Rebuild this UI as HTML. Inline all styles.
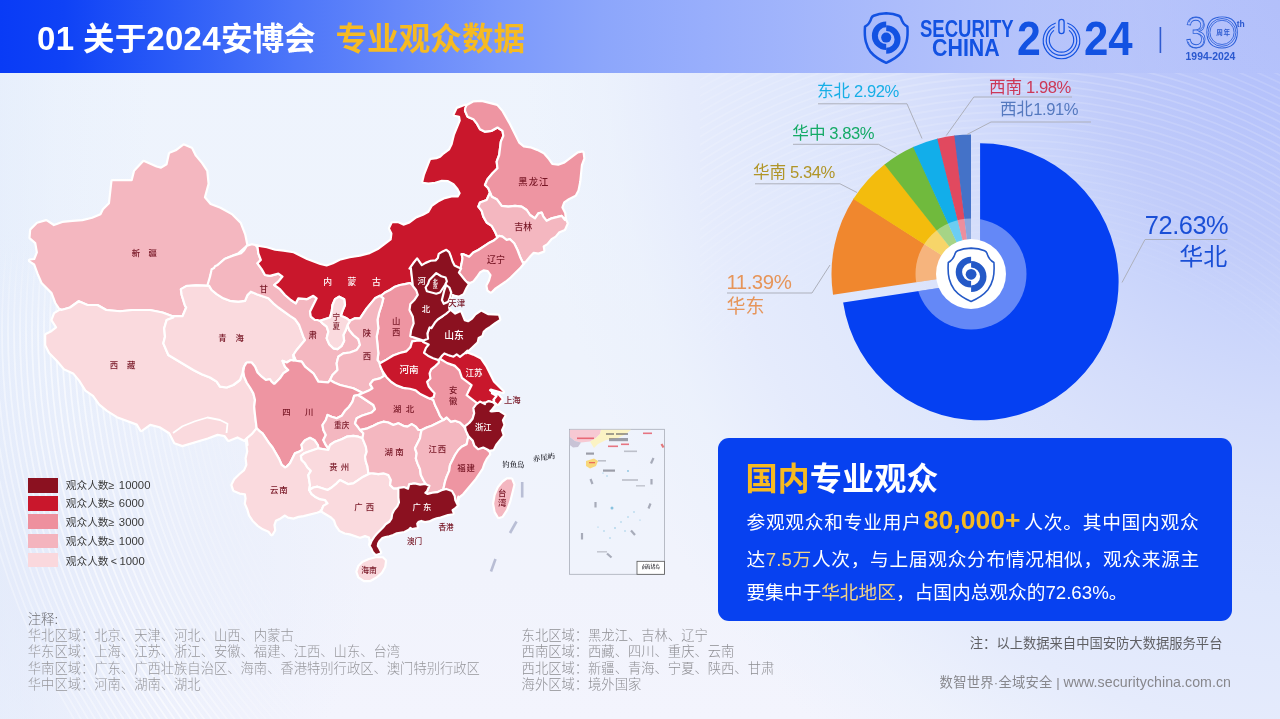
<!DOCTYPE html>
<html lang="zh-CN"><head><meta charset="utf-8"><title>01 关于2024安博会 专业观众数据</title>
<style>
html,body{margin:0;padding:0}
body{width:1280px;height:719px;overflow:hidden;position:relative;font-family:"Liberation Sans", "Noto Sans CJK SC", sans-serif;
background:radial-gradient(ellipse 780px 950px at 1300px -20px, #b2bffa 0%, #b5c2fb 12%, #c0cbfa 28%, #c9d4fb 36%, #d3dcfb 46%, #dae2fb 55%, #dfe7fc 65%, #e5ebfc 79%, rgba(234,240,252,0.6) 90%, rgba(238,243,252,0) 100%),
radial-gradient(ellipse 330px 330px at 40px 560px, rgba(226,233,250,0.7) 0%, rgba(228,235,251,0.45) 50%, rgba(232,238,252,0) 100%),
linear-gradient(90deg, rgba(222,233,251,0.45) 0px, rgba(226,236,251,0.25) 60px, rgba(230,238,252,0) 150px),
linear-gradient(180deg,#eef4fd 0%,#eef3fc 50%,#f1f3fc 80%,#f3f4fd 100%);}
.abs{position:absolute}
.t{position:absolute;white-space:nowrap;margin:0}
.hdr{left:0;top:0;width:1280px;height:73px;background:linear-gradient(90deg,#093bf6 0%,#0f42f6 5%,#2d5df7 14%,#4d76f9 23%,#6688fa 31%,#7b99fb 39%,#8ca6fb 47%,#98aefc 55%,rgba(168,185,251,0.92) 70%,rgba(178,192,251,0.6) 86%,rgba(181,195,251,0) 100%)}
.mlab{position:absolute;white-space:nowrap;font-size:8.4px;line-height:10px;color:#771625;font-weight:500;transform:translate(-50%,-50%)}
.mlab.w{color:#fff}
.mlab.k{color:#22222a;font-family:"Liberation Serif","Noto Serif CJK SC",serif;font-size:8px;font-weight:600}
.n{letter-spacing:-0.45px}
.pl{word-spacing:-0.8px}
.f1{letter-spacing:0.25px}
.f3{font-size:14.2px;letter-spacing:0.05px}
.ln{font-size:11.3px;margin-left:4.4px;letter-spacing:0.05px}
.dg{font-size:33px;letter-spacing:0.3px}
.bl{font-size:18.7px;color:#fff;line-height:35px;white-space:nowrap}
.bj{text-align:justify;text-align-last:justify;text-justify:inter-character}
.big{font-size:26.5px;font-weight:700;color:#f6ba22;margin:0 3px 0 2px;line-height:20px}
.y{color:#f1d387}
text{font-family:"Liberation Sans", "Noto Sans CJK SC", sans-serif}
</style></head>
<body>
<div class="abs hdr"></div>

<svg class="abs" style="left:0;top:0" width="1280" height="719" viewBox="0 0 1280 719">
<defs><linearGradient id="fadeh" gradientUnits="userSpaceOnUse" x1="0" y1="0" x2="340" y2="0"><stop offset="0" stop-color="#fff"/><stop offset="0.5" stop-color="#fff"/><stop offset="1" stop-color="#000"/></linearGradient>
<linearGradient id="fadev" gradientUnits="userSpaceOnUse" x1="0" y1="240" x2="0" y2="340"><stop offset="0" stop-color="#000"/><stop offset="1" stop-color="#fff"/></linearGradient>
<mask id="bgmask1" maskUnits="userSpaceOnUse" x="0" y="240" width="340" height="479"><rect x="0" y="240" width="340" height="479" fill="url(#fadeh)"/><rect x="0" y="240" width="340" height="100" fill="url(#fadev)" style="mix-blend-mode:multiply"/></mask></defs>
<clipPath id="bgclip2"><rect x="700" y="73" width="580" height="400"/></clipPath>
<g fill="none" stroke="#fff" mask="url(#bgmask1)">
<circle cx="720" cy="330" r="478" stroke-width="1.8" stroke-opacity="0.03"/>
<circle cx="720" cy="330" r="484" stroke-width="1.8" stroke-opacity="0.04"/>
<circle cx="720" cy="330" r="490" stroke-width="1.8" stroke-opacity="0.06"/>
<circle cx="720" cy="330" r="496" stroke-width="1.8" stroke-opacity="0.08"/>
<circle cx="720" cy="330" r="502" stroke-width="1.8" stroke-opacity="0.10"/>
<circle cx="720" cy="330" r="508" stroke-width="1.8" stroke-opacity="0.12"/>
<circle cx="720" cy="330" r="514" stroke-width="1.8" stroke-opacity="0.14"/>
<circle cx="720" cy="330" r="520" stroke-width="1.8" stroke-opacity="0.16"/>
<circle cx="720" cy="330" r="526" stroke-width="1.8" stroke-opacity="0.18"/>
<circle cx="720" cy="330" r="532" stroke-width="1.8" stroke-opacity="0.20"/>
<circle cx="720" cy="330" r="538" stroke-width="1.8" stroke-opacity="0.21"/>
<circle cx="720" cy="330" r="544" stroke-width="1.8" stroke-opacity="0.23"/>
<circle cx="720" cy="330" r="550" stroke-width="1.8" stroke-opacity="0.25"/>
<circle cx="720" cy="330" r="556" stroke-width="1.8" stroke-opacity="0.27"/>
<circle cx="720" cy="330" r="562" stroke-width="1.8" stroke-opacity="0.29"/>
<circle cx="720" cy="330" r="568" stroke-width="1.8" stroke-opacity="0.31"/>
<circle cx="720" cy="330" r="574" stroke-width="1.8" stroke-opacity="0.33"/>
<circle cx="720" cy="330" r="580" stroke-width="1.8" stroke-opacity="0.35"/>
<circle cx="720" cy="330" r="586" stroke-width="1.8" stroke-opacity="0.37"/>
<circle cx="720" cy="330" r="592" stroke-width="1.8" stroke-opacity="0.39"/>
<circle cx="720" cy="330" r="598" stroke-width="1.8" stroke-opacity="0.40"/>
<circle cx="720" cy="330" r="604" stroke-width="1.8" stroke-opacity="0.42"/>
<circle cx="720" cy="330" r="610" stroke-width="1.8" stroke-opacity="0.44"/>
<circle cx="720" cy="330" r="616" stroke-width="1.8" stroke-opacity="0.46"/>
<circle cx="720" cy="330" r="622" stroke-width="1.8" stroke-opacity="0.48"/>
<circle cx="720" cy="330" r="628" stroke-width="1.8" stroke-opacity="0.50"/>
<circle cx="720" cy="330" r="634" stroke-width="1.8" stroke-opacity="0.52"/>
<circle cx="720" cy="330" r="640" stroke-width="1.8" stroke-opacity="0.54"/>
<circle cx="720" cy="330" r="646" stroke-width="1.8" stroke-opacity="0.56"/>
<circle cx="720" cy="330" r="652" stroke-width="1.8" stroke-opacity="0.57"/>
<circle cx="720" cy="330" r="658" stroke-width="1.8" stroke-opacity="0.59"/>
<circle cx="720" cy="330" r="664" stroke-width="1.8" stroke-opacity="0.59"/>
<circle cx="720" cy="330" r="670" stroke-width="1.8" stroke-opacity="0.57"/>
<circle cx="720" cy="330" r="676" stroke-width="1.8" stroke-opacity="0.55"/>
<circle cx="720" cy="330" r="682" stroke-width="1.8" stroke-opacity="0.53"/>
<circle cx="720" cy="330" r="688" stroke-width="1.8" stroke-opacity="0.51"/>
<circle cx="720" cy="330" r="694" stroke-width="1.8" stroke-opacity="0.49"/>
<circle cx="720" cy="330" r="700" stroke-width="1.8" stroke-opacity="0.47"/>
<circle cx="720" cy="330" r="706" stroke-width="1.8" stroke-opacity="0.45"/>
<circle cx="720" cy="330" r="712" stroke-width="1.8" stroke-opacity="0.44"/>
<circle cx="720" cy="330" r="718" stroke-width="1.8" stroke-opacity="0.42"/>
<circle cx="720" cy="330" r="724" stroke-width="1.8" stroke-opacity="0.40"/>
<circle cx="720" cy="330" r="730" stroke-width="1.8" stroke-opacity="0.38"/>
<circle cx="720" cy="330" r="736" stroke-width="1.8" stroke-opacity="0.36"/>
<circle cx="720" cy="330" r="742" stroke-width="1.8" stroke-opacity="0.34"/>
<circle cx="720" cy="330" r="748" stroke-width="1.8" stroke-opacity="0.32"/>
<circle cx="720" cy="330" r="754" stroke-width="1.8" stroke-opacity="0.30"/>
</g><g fill="none" stroke="#fff" clip-path="url(#bgclip2)">
<circle cx="1010" cy="640" r="381" stroke-width="1.8" stroke-opacity="0.02"/>
<circle cx="1010" cy="640" r="388" stroke-width="1.8" stroke-opacity="0.03"/>
<circle cx="1010" cy="640" r="395" stroke-width="1.8" stroke-opacity="0.03"/>
<circle cx="1010" cy="640" r="402" stroke-width="1.8" stroke-opacity="0.04"/>
<circle cx="1010" cy="640" r="409" stroke-width="1.8" stroke-opacity="0.05"/>
<circle cx="1010" cy="640" r="416" stroke-width="1.8" stroke-opacity="0.05"/>
<circle cx="1010" cy="640" r="423" stroke-width="1.8" stroke-opacity="0.06"/>
<circle cx="1010" cy="640" r="430" stroke-width="1.8" stroke-opacity="0.06"/>
<circle cx="1010" cy="640" r="437" stroke-width="1.8" stroke-opacity="0.07"/>
<circle cx="1010" cy="640" r="444" stroke-width="1.8" stroke-opacity="0.07"/>
<circle cx="1010" cy="640" r="451" stroke-width="1.8" stroke-opacity="0.08"/>
<circle cx="1010" cy="640" r="458" stroke-width="1.8" stroke-opacity="0.08"/>
<circle cx="1010" cy="640" r="465" stroke-width="1.8" stroke-opacity="0.09"/>
<circle cx="1010" cy="640" r="472" stroke-width="1.8" stroke-opacity="0.09"/>
<circle cx="1010" cy="640" r="479" stroke-width="1.8" stroke-opacity="0.10"/>
<circle cx="1010" cy="640" r="486" stroke-width="1.8" stroke-opacity="0.11"/>
<circle cx="1010" cy="640" r="493" stroke-width="1.8" stroke-opacity="0.11"/>
<circle cx="1010" cy="640" r="500" stroke-width="1.8" stroke-opacity="0.12"/>
<circle cx="1010" cy="640" r="507" stroke-width="1.8" stroke-opacity="0.12"/>
<circle cx="1010" cy="640" r="514" stroke-width="1.8" stroke-opacity="0.13"/>
<circle cx="1010" cy="640" r="521" stroke-width="1.8" stroke-opacity="0.13"/>
<circle cx="1010" cy="640" r="528" stroke-width="1.8" stroke-opacity="0.14"/>
<circle cx="1010" cy="640" r="535" stroke-width="1.8" stroke-opacity="0.14"/>
<circle cx="1010" cy="640" r="542" stroke-width="1.8" stroke-opacity="0.15"/>
<circle cx="1010" cy="640" r="549" stroke-width="1.8" stroke-opacity="0.15"/>
<circle cx="1010" cy="640" r="556" stroke-width="1.8" stroke-opacity="0.16"/>
<circle cx="1010" cy="640" r="563" stroke-width="1.8" stroke-opacity="0.16"/>
<circle cx="1010" cy="640" r="570" stroke-width="1.8" stroke-opacity="0.17"/>
<circle cx="1010" cy="640" r="577" stroke-width="1.8" stroke-opacity="0.16"/>
<circle cx="1010" cy="640" r="584" stroke-width="1.8" stroke-opacity="0.16"/>
<circle cx="1010" cy="640" r="591" stroke-width="1.8" stroke-opacity="0.15"/>
<circle cx="1010" cy="640" r="598" stroke-width="1.8" stroke-opacity="0.15"/>
<circle cx="1010" cy="640" r="605" stroke-width="1.8" stroke-opacity="0.14"/>
<circle cx="1010" cy="640" r="612" stroke-width="1.8" stroke-opacity="0.14"/>
<circle cx="1010" cy="640" r="619" stroke-width="1.8" stroke-opacity="0.13"/>
<circle cx="1010" cy="640" r="626" stroke-width="1.8" stroke-opacity="0.13"/>
<circle cx="1010" cy="640" r="633" stroke-width="1.8" stroke-opacity="0.12"/>
<circle cx="1010" cy="640" r="640" stroke-width="1.8" stroke-opacity="0.12"/>
<circle cx="1010" cy="640" r="647" stroke-width="1.8" stroke-opacity="0.11"/>
<circle cx="1010" cy="640" r="654" stroke-width="1.8" stroke-opacity="0.11"/>
<circle cx="1010" cy="640" r="661" stroke-width="1.8" stroke-opacity="0.10"/>
<circle cx="1010" cy="640" r="668" stroke-width="1.8" stroke-opacity="0.09"/>
<circle cx="1010" cy="640" r="675" stroke-width="1.8" stroke-opacity="0.09"/>
<circle cx="1010" cy="640" r="682" stroke-width="1.8" stroke-opacity="0.08"/>
<circle cx="1010" cy="640" r="689" stroke-width="1.8" stroke-opacity="0.08"/>
<circle cx="1010" cy="640" r="696" stroke-width="1.8" stroke-opacity="0.07"/>
<circle cx="1010" cy="640" r="703" stroke-width="1.8" stroke-opacity="0.07"/>
<circle cx="1010" cy="640" r="710" stroke-width="1.8" stroke-opacity="0.06"/>
<circle cx="1010" cy="640" r="717" stroke-width="1.8" stroke-opacity="0.06"/>
<circle cx="1010" cy="640" r="724" stroke-width="1.8" stroke-opacity="0.05"/>
<circle cx="1010" cy="640" r="731" stroke-width="1.8" stroke-opacity="0.05"/>
<circle cx="1010" cy="640" r="738" stroke-width="1.8" stroke-opacity="0.04"/>
<circle cx="1010" cy="640" r="745" stroke-width="1.8" stroke-opacity="0.03"/>
<circle cx="1010" cy="640" r="752" stroke-width="1.8" stroke-opacity="0.03"/>
<circle cx="1010" cy="640" r="759" stroke-width="1.8" stroke-opacity="0.02"/>
</g>
<g id="map" stroke="#fff" stroke-width="2.2" stroke-linejoin="round">
<path d="M169.40,152.83 L168.93,153.51 L166.53,164.30 L161.07,167.57 L156.61,166.46 L144.19,160.99 L143.48,160.93 L142.95,161.24 L134.06,170.67 L131.64,180.15 L112.50,180.15 L111.81,180.40 L111.41,181.13 L108.95,203.25 L102.89,209.31 L100.45,214.15 L92.15,217.70 L82.32,220.16 L72.39,220.91 L62.30,221.92 L53.89,225.02 L46.86,220.33 L46.05,220.17 L36.99,222.77 L30.34,229.39 L30.16,229.89 L29.44,237.81 L29.78,238.33 L35.23,243.07 L36.86,252.38 L34.23,258.97 L29.58,259.48 L28.98,260.09 L28.99,260.93 L29.40,261.42 L34.10,264.48 L37.72,274.14 L41.53,283.03 L51.55,293.11 L55.27,303.00 L60.31,310.57 L61.25,310.00 L70.00,307.50 L78.75,301.25 L87.50,305.00 L97.50,305.00 L106.25,310.00 L120.00,311.25 L132.50,310.00 L150.00,310.00 L162.50,312.50 L172.50,316.25 L182.50,316.25 L186.25,307.50 L184.47,303.93 L181.72,294.99 L180.92,289.45 L186.25,286.25 L195.95,285.37 L204.92,285.66 L209.25,286.25 L210.50,275.00 L214.13,267.93 L215.80,267.10 L225.58,258.45 L238.02,253.47 L247.17,245.60 L247.33,244.78 L245.31,234.70 L240.86,223.06 L231.87,214.09 L220.46,207.75 L210.66,204.07 L204.96,197.24 L208.60,183.84 L207.30,170.93 L202.17,163.14 L195.93,155.64 L192.12,148.07 L191.69,147.74 L184.19,144.49 L183.56,144.42 L175.70,150.28Z" fill="#f4b7c0"/>
<path d="M252.50,435.00 L256.67,428.33 L255.00,415.00 L254.17,406.67 L255.00,400.00 L253.33,393.33 L250.00,387.50 L246.67,382.50 L244.17,376.67 L243.33,371.67 L244.17,366.67 L246.67,362.50 L245.83,363.33 L243.33,368.33 L242.50,373.33 L240.00,380.00 L233.33,385.00 L226.67,387.50 L220.00,386.67 L216.67,381.67 L210.00,377.50 L201.67,374.17 L193.33,370.00 L168.33,355.00 L163.33,343.33 L165.00,336.67 L164.17,328.33 L166.67,320.00 L173.33,317.50 L172.50,316.25 L162.50,312.50 L150.00,310.00 L132.50,310.00 L120.00,311.25 L106.25,310.00 L97.50,305.00 L87.50,305.00 L78.75,301.25 L70.00,307.50 L61.25,310.00 L60.64,309.08 L54.07,313.16 L51.41,320.11 L56.03,327.27 L50.65,331.57 L45.66,334.07 L45.16,334.89 L45.17,345.20 L49.07,353.09 L56.69,360.75 L64.31,369.61 L73.07,373.41 L79.11,380.65 L85.38,390.68 L92.97,395.80 L99.23,404.53 L106.92,410.93 L116.92,417.18 L136.75,424.65 L140.31,430.57 L140.97,431.06 L141.89,430.90 L150.23,424.94 L159.56,427.27 L169.15,433.27 L174.28,443.33 L182.37,446.09 L207.82,438.55 L217.61,434.88 L224.38,436.01 L227.94,440.74 L228.78,441.10 L237.46,437.46 L244.51,440.98 L245.22,441.08 L246.89,440.06 L246.73,438.84 L245.00,440.00Z" fill="#fadade"/>
<path d="M186.19,307.50 L182.47,316.20 L172.49,316.20 L173.28,317.52 L166.67,320.00 L164.17,328.33 L165.00,336.67 L163.33,343.33 L168.33,355.00 L193.33,370.00 L201.67,374.17 L210.00,377.50 L216.67,381.67 L220.00,386.67 L226.67,387.50 L233.33,385.00 L240.00,380.00 L242.50,373.33 L243.33,368.33 L245.83,363.33 L247.45,362.52 L251.65,362.55 L254.96,366.70 L257.46,372.53 L261.63,376.71 L265.81,380.05 L269.08,379.39 L270.00,380.00 L274.17,384.17 L280.00,378.33 L283.33,373.33 L288.33,370.00 L285.00,366.67 L282.50,360.83 L286.67,362.50 L290.83,360.00 L294.17,360.83 L293.33,355.00 L296.67,350.00 L305.00,340.00 L303.33,336.67 L299.17,325.00 L295.00,319.17 L290.00,315.83 L278.33,307.50 L273.33,303.33 L268.33,298.33 L256.67,294.17 L250.83,291.67 L247.50,295.00 L245.00,300.83 L238.33,301.67 L230.00,300.83 L223.33,298.33 L216.67,294.17 L211.67,290.00 L209.17,285.83 L196.67,285.33 L186.67,285.83 L180.83,289.17 L181.67,295.00 L185.00,305.83Z" fill="#fadade"/>
<path d="M258.63,246.88 L258.32,245.93 L257.85,245.63 L251.80,244.24 L247.16,245.62 L246.56,246.10 L244.13,250.15 L241.09,253.20 L232.92,255.65 L224.37,259.10 L217.71,264.91 L214.99,266.28 L214.13,267.93 L211.67,269.17 L210.00,276.67 L207.50,285.00 L209.17,285.83 L211.67,290.00 L216.67,294.17 L223.33,298.33 L230.00,300.83 L238.33,301.67 L245.00,300.83 L247.50,295.00 L250.83,291.67 L256.67,294.17 L268.33,298.33 L273.33,303.33 L278.33,307.50 L290.00,315.83 L295.00,319.17 L299.17,325.00 L303.33,336.67 L305.00,340.00 L296.67,350.00 L293.33,355.00 L295.83,360.83 L301.67,361.67 L305.00,366.67 L313.33,373.33 L318.33,381.67 L328.33,382.50 L330.00,380.00 L332.50,375.00 L337.50,370.00 L336.67,363.33 L338.33,356.67 L343.33,353.33 L350.00,352.50 L356.67,350.00 L360.00,345.00 L358.33,339.17 L353.33,335.00 L349.17,330.00 L347.50,325.00 L345.83,330.00 L343.33,335.00 L344.17,340.83 L341.67,345.83 L337.50,349.17 L333.33,348.33 L329.17,344.17 L326.67,338.33 L328.33,331.67 L326.67,326.67 L322.50,323.33 L320.02,320.79 L317.51,319.95 L314.96,319.97 L310.83,316.67 L310.00,311.67 L316.67,298.33 L313.33,295.83 L306.67,299.17 L298.33,298.33 L295.83,303.33 L290.83,300.00 L285.00,295.00 L280.00,289.17 L274.17,285.00 L278.33,281.67 L282.50,276.67 L278.33,273.67 L270.00,275.83 L265.00,275.00 L261.67,269.17 L257.50,263.33 L260.83,260.00 L258.33,253.33 L257.50,246.67Z" fill="#f4b7c0"/>
<path d="M257.48,245.57 L256.78,245.83 L256.43,246.42 L257.50,246.67 L258.33,253.33 L260.83,260.00 L257.50,263.33 L261.67,269.17 L265.00,275.00 L270.00,275.83 L278.33,273.67 L282.50,276.67 L278.33,281.67 L274.17,285.00 L280.00,289.17 L285.00,295.00 L290.83,300.00 L295.83,303.33 L298.33,298.33 L306.67,299.17 L313.33,295.83 L316.67,298.33 L310.00,311.67 L310.83,316.67 L315.00,320.00 L317.50,320.00 L320.00,320.83 L330.00,317.50 L331.67,311.67 L332.50,305.00 L335.00,299.17 L339.17,296.67 L344.17,299.17 L345.00,305.00 L342.50,310.83 L340.83,315.83 L346.67,318.33 L350.00,320.83 L355.00,318.33 L360.00,318.33 L366.67,308.33 L375.00,298.33 L380.00,295.83 L380.83,295.83 L385.00,292.50 L390.00,290.00 L395.00,286.67 L400.00,285.00 L405.00,284.17 L410.00,283.00 L413.33,285.83 L410.83,267.50 L413.75,263.33 L417.08,259.17 L421.67,265.83 L425.83,263.33 L430.83,261.25 L435.83,260.83 L438.33,258.33 L439.17,254.17 L442.50,252.08 L446.25,250.42 L448.75,252.50 L450.42,256.67 L452.08,261.67 L454.17,265.83 L458.33,267.92 L460.42,268.75 L461.67,263.33 L462.50,258.33 L461.67,254.17 L463.33,254.17 L469.17,256.67 L473.33,252.50 L478.33,250.00 L488.33,243.33 L493.33,240.83 L497.50,237.50 L495.00,231.67 L491.67,225.83 L486.67,222.50 L483.33,216.67 L481.67,210.83 L478.33,206.67 L480.00,202.50 L486.67,200.00 L490.00,192.50 L488.33,188.33 L485.00,185.00 L487.50,179.17 L492.50,173.33 L497.50,168.33 L496.67,161.67 L499.17,155.00 L500.83,141.67 L503.33,135.83 L502.50,130.83 L497.50,127.50 L491.67,130.83 L485.00,131.67 L480.00,129.17 L476.67,123.33 L473.33,119.17 L467.50,116.67 L465.00,110.83 L466.27,108.29 L466.43,105.79 L466.07,105.02 L465.60,104.76 L465.06,104.76 L456.76,107.86 L453.68,114.20 L453.61,114.95 L453.87,115.43 L454.33,115.72 L459.04,116.75 L459.69,120.69 L453.98,134.59 L451.46,144.62 L449.13,149.28 L442.67,154.12 L440.05,156.73 L436.40,158.10 L430.68,158.91 L429.95,159.33 L423.98,174.59 L422.23,181.72 L422.44,182.32 L423.05,182.73 L428.36,183.60 L435.23,182.75 L441.80,180.78 L448.01,181.09 L453.45,184.19 L457.40,188.94 L459.58,193.28 L457.71,196.40 L451.54,196.41 L444.73,198.10 L437.84,201.52 L431.68,205.93 L428.36,211.69 L422.86,214.83 L416.10,217.39 L409.47,222.36 L403.39,224.63 L398.53,222.25 L392.50,222.23 L391.88,222.42 L391.52,222.84 L388.90,228.27 L389.02,228.82 L391.37,233.52 L390.64,239.40 L377.75,249.06 L369.62,253.13 L359.78,255.59 L349.73,257.26 L339.73,259.76 L332.89,263.16 L326.60,265.52 L320.33,263.95 L307.11,258.99 L293.62,252.27 L283.51,250.58 L275.22,249.75 L266.87,247.25Z" fill="#c9172c"/>
<path d="M466.78,105.00 L465.19,108.00 L465.00,110.83 L467.50,116.67 L473.33,119.17 L476.67,123.33 L480.00,129.17 L485.00,131.67 L491.67,130.83 L497.50,127.50 L502.50,130.83 L503.33,135.83 L500.83,141.67 L499.17,155.00 L496.67,161.67 L497.50,168.33 L492.50,173.33 L487.50,179.17 L485.00,185.00 L488.33,188.33 L491.67,196.67 L496.67,199.17 L501.67,205.83 L508.33,206.67 L515.00,205.83 L521.67,206.67 L526.67,210.00 L530.00,215.00 L535.00,218.33 L538.33,213.33 L541.67,212.50 L543.33,216.67 L546.67,220.83 L551.67,218.33 L561.67,215.83 L565.00,220.00 L565.49,220.98 L565.71,220.84 L566.10,219.97 L565.24,213.07 L562.45,207.45 L564.25,202.37 L568.88,199.28 L575.74,195.81 L578.52,190.40 L580.26,181.78 L581.91,165.25 L584.42,158.50 L583.59,152.34 L583.33,151.78 L582.91,151.48 L582.39,151.41 L577.75,152.39 L564.47,162.36 L558.20,164.70 L552.31,163.97 L549.16,159.28 L543.92,153.24 L537.16,149.85 L530.39,147.30 L523.79,146.45 L519.21,142.63 L509.31,122.84 L502.63,111.12 L497.25,104.89 L481.72,100.90 L473.06,101.43Z" fill="#ee95a2"/>
<path d="M486.62,199.98 L480.00,202.50 L478.33,206.67 L481.67,210.83 L483.33,216.67 L486.67,222.50 L491.67,225.83 L495.00,231.67 L497.50,237.50 L499.17,235.83 L502.50,236.67 L506.67,240.00 L510.00,239.17 L514.17,243.33 L517.50,250.00 L520.00,256.67 L523.00,263.00 L522.30,263.85 L522.72,264.06 L523.36,264.04 L523.80,263.75 L526.67,260.70 L530.81,255.74 L533.71,252.85 L538.47,253.59 L544.06,251.65 L544.43,250.76 L543.71,246.39 L547.43,244.12 L551.56,239.18 L555.72,236.66 L559.02,232.57 L564.95,229.95 L567.72,223.66 L567.70,222.93 L565.86,219.31 L564.74,217.91 L565.00,220.00 L561.67,215.83 L551.67,218.33 L546.67,220.83 L543.33,216.67 L541.67,212.50 L538.33,213.33 L535.00,218.33 L530.00,215.00 L526.67,210.00 L521.67,206.67 L515.00,205.83 L508.33,206.67 L501.67,205.83 L496.67,199.17 L491.71,196.69 L490.02,192.45Z" fill="#f4b7c0"/>
<path d="M493.33,240.83 L488.33,243.33 L478.33,250.00 L473.33,252.50 L469.17,256.67 L463.33,254.17 L461.67,254.17 L462.50,258.33 L461.67,263.33 L460.42,268.75 L458.33,272.50 L465.00,280.83 L467.50,283.33 L467.85,282.98 L468.13,283.25 L467.43,284.43 L467.61,284.42 L468.11,284.24 L468.95,283.44 L473.28,281.60 L476.74,277.28 L479.95,272.49 L483.55,270.32 L487.68,271.01 L490.47,275.19 L488.97,280.43 L486.52,285.34 L486.41,285.94 L487.42,290.61 L490.22,292.58 L490.72,292.76 L491.53,292.52 L495.70,288.36 L505.61,281.74 L510.70,277.52 L520.78,267.45 L523.85,263.70 L524.10,263.08 L523.81,262.14 L523.00,263.00 L520.00,256.67 L517.50,250.00 L514.17,243.33 L510.00,239.17 L506.67,240.00 L502.50,236.67 L499.17,235.83 L497.50,237.50Z" fill="#ee95a2"/>
<path d="M380.00,295.83 L383.33,298.33 L381.67,305.00 L379.17,312.50 L377.50,320.00 L378.33,328.33 L376.67,336.67 L378.33,353.33 L377.50,360.00 L380.00,363.33 L386.49,359.70 L393.17,355.51 L399.90,353.00 L406.49,351.35 L410.52,347.31 L412.23,341.36 L418.33,340.48 L423.53,341.22 L424.02,340.28 L423.34,340.48 L410.73,336.27 L411.67,330.00 L414.17,323.33 L413.33,316.67 L410.00,310.00 L410.83,304.17 L415.00,300.00 L418.33,295.00 L416.67,290.00 L413.33,285.83 L410.00,283.00 L405.00,284.17 L400.00,285.00 L395.00,286.67 L390.00,290.00 L385.00,292.50 L380.83,295.83Z" fill="#ee95a2"/>
<path d="M375.00,298.33 L366.67,308.33 L360.00,318.33 L355.00,318.33 L350.00,320.83 L347.50,325.00 L349.17,330.00 L353.33,335.00 L358.33,339.17 L360.00,345.00 L356.67,350.00 L350.00,352.50 L343.33,353.33 L338.33,356.67 L336.67,363.33 L337.50,370.00 L332.50,375.00 L330.00,380.00 L334.17,382.50 L340.00,385.00 L353.33,388.33 L363.33,393.33 L368.33,390.83 L372.50,388.33 L370.00,384.17 L373.33,380.00 L380.00,378.33 L384.22,375.84 L382.08,369.96 L381.28,368.44 L380.00,363.33 L377.50,360.00 L378.33,353.33 L376.67,336.67 L378.33,328.33 L377.50,320.00 L379.17,312.50 L381.67,305.00 L383.33,298.33 L380.00,295.83Z" fill="#f4b7c0"/>
<path d="M339.17,296.67 L335.00,299.17 L332.50,305.00 L331.67,311.67 L330.00,317.50 L320.00,320.83 L322.50,323.33 L326.67,326.67 L328.33,331.67 L326.67,338.33 L329.17,344.17 L333.33,348.33 L337.50,349.17 L341.67,345.83 L344.17,340.83 L343.33,335.00 L345.83,330.00 L347.50,325.00 L350.00,320.83 L346.67,318.33 L340.83,315.83 L342.50,310.83 L345.00,305.00 L344.17,299.17Z" fill="#fadade"/>
<path d="M274.55,383.72 L273.59,383.55 L271.22,381.21 L270.00,379.17 L265.83,380.00 L261.67,376.67 L257.50,372.50 L255.00,366.67 L251.67,362.50 L246.67,362.50 L244.12,366.65 L243.33,371.67 L244.17,376.67 L246.67,382.50 L250.00,387.50 L253.33,393.33 L255.00,400.00 L254.17,406.67 L255.00,415.00 L256.67,428.33 L259.17,430.83 L262.50,433.33 L269.17,443.33 L272.50,447.50 L279.17,459.17 L281.67,465.00 L285.00,467.50 L286.67,466.67 L290.00,463.33 L295.00,453.33 L299.17,451.67 L303.33,449.17 L301.67,445.00 L303.94,441.60 L305.03,440.37 L310.00,437.89 L314.64,440.37 L317.95,445.35 L318.30,448.37 L328.37,450.03 L328.37,448.31 L325.83,445.00 L323.33,440.00 L325.83,435.00 L323.33,430.00 L322.50,425.00 L325.83,420.00 L327.50,415.00 L331.67,416.67 L336.67,418.33 L341.67,415.83 L345.00,410.83 L349.17,406.67 L352.50,401.67 L354.16,395.88 L358.34,395.05 L362.93,393.11 L353.35,388.28 L340.02,384.95 L334.19,382.46 L330.01,379.95 L328.30,382.45 L318.36,381.62 L313.37,373.30 L305.04,366.64 L301.70,361.63 L295.86,360.78 L293.33,354.95 L294.11,360.76 L290.82,359.95 L286.67,362.44 L282.46,360.80 L284.96,366.70 L288.25,369.99 L283.29,373.29 L279.96,378.30Z" fill="#ee95a2"/>
<path d="M354.17,395.83 L352.50,401.67 L349.17,406.67 L345.00,410.83 L341.67,415.83 L336.67,418.33 L331.67,416.67 L327.50,415.00 L325.83,420.00 L322.50,425.00 L323.33,430.00 L325.83,435.00 L323.33,440.00 L325.83,445.00 L328.33,448.33 L328.33,450.00 L330.00,445.00 L335.00,441.67 L341.67,439.17 L346.67,436.67 L353.33,435.83 L358.33,436.67 L362.50,438.33 L363.33,433.33 L360.00,430.00 L358.33,427.50 L355.00,423.33 L356.67,418.33 L361.67,415.83 L371.67,412.50 L375.00,409.17 L373.33,405.00 L358.33,395.00Z" fill="#f4b7c0"/>
<path d="M262.54,433.30 L259.20,430.79 L256.65,428.28 L251.67,434.17 L246.67,438.33 L247.50,445.00 L246.73,438.84 L245.71,439.53 L247.21,451.60 L245.57,458.26 L246.37,464.84 L244.09,470.15 L239.22,474.22 L234.14,479.31 L231.52,484.51 L231.41,485.14 L233.13,490.35 L233.56,490.91 L239.66,493.55 L244.88,494.31 L245.55,498.33 L244.78,503.66 L247.29,509.54 L248.98,515.41 L252.48,520.70 L257.63,525.85 L262.81,529.30 L268.47,531.73 L270.86,534.91 L271.73,535.27 L272.55,534.83 L275.24,530.26 L274.46,525.09 L275.90,520.78 L280.61,518.42 L284.96,515.52 L287.95,517.70 L293.47,518.59 L298.60,516.90 L303.60,516.07 L316.94,512.74 L322.39,510.84 L321.67,510.00 L323.33,505.83 L327.50,503.33 L325.00,500.00 L320.00,499.17 L315.00,496.67 L311.67,494.17 L309.17,490.00 L310.00,485.00 L308.33,475.00 L310.83,470.83 L307.50,467.50 L305.00,463.33 L301.67,460.00 L300.83,455.83 L304.17,453.33 L308.33,451.67 L318.33,448.33 L318.00,445.33 L314.67,440.33 L310.00,437.83 L305.00,440.33 L301.33,444.67 L302.32,449.72 L299.15,451.63 L294.96,453.29 L289.96,463.30 L286.64,466.63 L285.01,467.44 L281.71,464.97 L279.21,459.15 L272.54,447.48 L269.21,443.30Z" fill="#fadade"/>
<path d="M366.72,451.69 L365.88,446.66 L362.54,438.30 L358.33,436.67 L353.33,435.83 L346.67,436.67 L341.67,439.17 L335.00,441.67 L330.00,445.00 L328.33,450.00 L318.33,448.33 L308.33,451.67 L304.17,453.33 L300.83,455.83 L301.67,460.00 L305.00,463.33 L307.50,467.50 L310.83,470.83 L308.33,475.00 L310.00,485.00 L309.17,490.00 L313.33,487.50 L317.50,486.67 L327.50,490.00 L331.67,487.50 L336.67,483.33 L340.00,480.00 L348.33,484.17 L353.33,483.33 L363.33,476.67 L370.04,473.37 L368.37,473.28 L367.55,466.66 L365.88,461.66 L365.05,456.67Z" fill="#fadade"/>
<path d="M315.00,496.67 L320.00,499.17 L325.00,500.00 L327.50,503.33 L323.33,505.83 L321.67,510.00 L320.65,510.42 L322.69,512.56 L330.99,517.54 L334.04,520.59 L335.70,525.53 L339.32,530.86 L344.61,533.53 L349.73,534.40 L359.75,537.74 L360.35,537.71 L365.00,536.16 L369.02,537.50 L370.15,544.45 L370.94,542.46 L371.25,544.38 L372.50,541.25 L375.00,537.50 L377.50,534.38 L383.75,528.12 L386.25,525.00 L390.00,522.50 L392.50,518.75 L393.12,514.38 L395.00,510.62 L398.12,506.88 L400.00,502.50 L399.38,497.50 L399.38,488.75 L399.17,488.33 L393.33,488.33 L390.00,485.00 L390.83,480.00 L388.33,475.00 L383.33,473.33 L378.33,474.17 L373.33,473.33 L377.61,472.38 L373.33,471.67 L363.33,476.67 L353.33,483.33 L348.33,484.17 L340.00,480.00 L336.67,483.33 L331.67,487.50 L327.50,490.00 L317.50,486.67 L313.33,487.50 L309.17,490.00 L311.67,494.17ZM383.33,470.83 L380.83,471.66 L388.33,470.00Z" fill="#fadade"/>
<path d="M405.29,388.13 L403.25,387.84 L396.51,385.31 L391.45,381.94 L387.77,378.32 L383.33,371.67 L380.83,366.67 L384.17,375.83 L380.00,378.33 L373.33,380.00 L370.00,384.17 L372.50,388.33 L368.33,390.83 L358.33,395.00 L373.33,405.00 L375.00,409.17 L371.67,412.50 L361.67,415.83 L356.67,418.33 L355.00,423.33 L358.33,427.50 L360.00,430.00 L367.50,428.33 L373.33,425.83 L378.33,423.33 L383.33,421.67 L388.33,422.50 L393.33,425.00 L398.33,423.33 L403.33,425.83 L407.50,426.67 L411.67,424.17 L415.83,426.67 L418.33,430.00 L421.67,430.00 L426.67,427.50 L431.67,425.83 L443.33,420.00 L440.00,415.83 L437.50,410.00 L435.00,405.00 L433.33,400.00 L430.00,398.33 L428.26,397.90 L419.81,393.63 L417.34,391.69 L416.67,390.00 L411.67,387.50Z" fill="#ee95a2"/>
<path d="M362.45,438.32 L365.83,446.67 L366.67,451.67 L365.00,456.67 L365.83,461.67 L367.50,466.67 L368.33,473.33 L373.33,473.33 L378.33,474.17 L383.33,473.33 L388.33,475.00 L390.83,480.00 L390.00,485.00 L393.33,488.33 L405.00,488.33 L405.88,487.89 L408.06,488.72 L408.63,486.52 L410.00,485.83 L412.89,483.66 L413.85,483.54 L421.67,486.67 L425.83,484.17 L423.33,480.00 L420.83,475.00 L420.00,469.17 L417.50,463.33 L415.83,458.33 L416.67,453.33 L415.00,448.33 L420.00,438.33 L420.83,433.33 L421.67,430.00 L418.33,430.00 L415.83,426.67 L411.67,424.17 L407.50,426.67 L403.33,425.83 L398.33,423.33 L393.33,425.00 L388.33,422.50 L383.33,421.67 L378.33,423.33 L373.33,425.83 L367.55,428.31 L359.97,429.96 L363.28,433.35Z" fill="#f4b7c0"/>
<path d="M420.00,438.33 L415.00,448.33 L416.67,453.33 L415.83,458.33 L417.50,463.33 L420.00,469.17 L420.83,475.00 L423.33,480.00 L425.80,484.13 L425.70,484.25 L426.01,484.35 L428.33,486.67 L428.89,486.86 L427.05,491.16 L425.39,492.87 L427.62,493.99 L432.32,492.81 L437.25,492.19 L441.56,490.35 L444.45,489.53 L443.34,489.12 L445.00,481.67 L446.67,476.67 L449.17,470.83 L450.00,465.00 L455.00,455.00 L458.33,450.00 L461.67,446.67 L466.67,444.17 L468.33,436.67 L466.67,431.67 L464.17,426.67 L460.00,422.50 L455.00,420.83 L450.83,421.67 L446.67,417.50 L443.33,420.00 L431.67,425.83 L426.67,427.50 L421.67,430.00 L420.83,433.33Z" fill="#f4b7c0"/>
<path d="M468.04,392.44 L471.66,385.22 L469.73,383.74 L471.67,379.17 L468.33,376.67 L465.00,375.00 L463.33,370.00 L460.00,365.83 L455.83,363.33 L454.25,365.44 L449.72,363.96 L446.67,361.67 L443.33,358.33 L441.64,359.74 L439.91,358.40 L438.68,359.94 L438.69,362.20 L435.00,365.83 L430.83,369.17 L429.17,373.33 L430.00,378.33 L426.67,381.67 L428.33,386.67 L431.67,390.83 L434.17,393.33 L433.33,396.67 L430.00,398.33 L433.33,400.00 L435.00,405.00 L437.50,410.00 L440.00,415.83 L443.33,420.00 L446.67,417.50 L450.83,421.67 L455.00,420.83 L460.00,422.50 L464.13,426.63 L465.58,429.55 L465.00,426.37 L469.47,422.80 L472.65,418.81 L474.23,413.29 L473.79,410.75 L476.93,403.84 L477.44,403.46 L477.15,403.31 L477.50,402.50 L468.33,393.33Z" fill="#ee95a2"/>
<path d="M379.53,363.47 L380.45,366.81 L382.98,371.87 L386.36,376.92 L391.42,381.98 L396.49,385.36 L403.23,387.89 L409.92,388.72 L415.64,390.36 L419.78,393.67 L430.00,398.78 L433.67,396.95 L434.61,393.21 L431.97,390.56 L428.69,386.48 L427.13,381.78 L430.43,378.47 L429.58,373.37 L431.16,369.42 L435.27,366.13 L438.73,362.67 L438.73,358.88 L433.48,357.13 L428.54,354.66 L425.49,352.36 L427.02,348.53 L430.64,344.01 L424.28,341.28 L418.33,340.43 L412.19,341.31 L410.47,347.29 L406.47,351.31 L399.88,352.95 L393.15,355.47 L386.47,359.65Z" fill="#c9172c"/>
<path d="M490.82,389.69 L495.02,390.74 L502.75,393.05 L503.57,392.88 L504.04,392.18 L504.01,391.65 L503.74,391.19 L493.98,381.43 L486.59,366.66 L481.07,358.53 L473.27,354.62 L466.06,351.94 L465.14,352.77 L463.84,352.29 L456.08,353.06 L450.03,355.48 L445.03,352.98 L437.50,355.99 L440.82,359.31 L447.21,363.14 L454.62,365.61 L459.39,370.38 L461.91,377.93 L471.61,385.21 L466.61,395.21 L477.27,403.46 L482.93,403.07 L484.16,403.68 L487.67,401.93 L488.72,402.25 L490.08,401.56 L492.49,403.37 L492.81,403.39 L493.40,403.14 L495.03,401.52 L494.20,400.79 L497.53,396.27 L491.90,393.17 L496.68,395.80 L497.37,394.93 L492.52,392.26 L490.04,390.19Z" fill="#c9172c"/>
<path d="M493.34,400.04 L494.20,400.79 L493.42,401.57 L497.16,404.84 L497.98,405.03 L498.69,404.59 L502.28,399.62 L502.47,398.80 L502.19,398.23 L498.29,394.04 L497.85,393.75 L497.33,393.70 L496.69,394.03 L495.71,395.26 L496.68,395.80Z" fill="#c9172c"/>
<path d="M467.65,434.47 L468.28,436.67 L466.63,444.19 L461.67,446.67 L458.33,450.00 L455.00,455.00 L450.00,465.00 L449.17,470.83 L446.67,476.67 L445.00,481.67 L443.33,489.17 L446.25,490.00 L451.25,491.88 L453.75,496.25 L454.38,500.62 L456.25,504.38 L458.33,496.67 L456.64,502.92 L457.38,504.41 L459.30,497.30 L463.34,494.03 L475.92,478.94 L482.64,468.86 L484.35,463.75 L486.76,458.93 L490.25,454.38 L489.40,449.77 L488.31,449.99 L483.33,447.50 L477.19,448.27 L474.34,445.41 L472.67,440.40 L468.55,436.27Z" fill="#ee95a2"/>
<path d="M473.32,408.12 L474.18,413.28 L472.61,418.80 L469.43,422.76 L464.95,426.35 L465.91,431.09 L468.51,436.30 L472.63,440.43 L474.30,445.43 L478.11,449.24 L483.27,447.53 L488.33,450.00 L488.54,451.06 L493.47,450.05 L494.02,449.53 L496.61,444.36 L503.59,435.56 L503.61,434.81 L502.05,430.15 L504.46,425.03 L502.91,420.23 L505.40,416.06 L505.42,415.15 L505.02,414.67 L498.83,410.61 L491.69,411.41 L490.45,411.24 L491.43,410.43 L495.33,405.54 L495.54,404.61 L495.21,404.05 L492.78,402.21 L488.62,401.07 L485.00,402.88 L484.16,402.45 L482.93,403.07 L485.00,404.11 L479.92,401.56 L476.10,404.43Z" fill="#8b1120"/>
<path d="M450.48,309.62 L449.85,309.49 L449.26,309.74 L447.12,311.85 L439.09,317.87 L437.71,319.45 L442.89,316.00 L432.75,322.75 L429.28,327.98 L427.59,333.02 L423.08,342.07 L428.72,344.49 L425.97,347.92 L424.03,352.77 L427.91,355.68 L433.02,358.24 L438.61,360.11 L442.27,355.53 L444.36,353.44 L448.05,354.92 L453.47,356.72 L456.67,354.33 L460.00,356.83 L463.84,353.95 L467.55,350.58 L465.14,352.77 L466.30,353.20 L477.55,342.47 L477.80,341.98 L478.67,337.96 L482.50,335.96 L483.70,331.84 L486.17,329.50 L490.27,326.88 L495.25,323.24 L499.87,320.27 L500.35,319.56 L499.15,315.22 L498.54,314.54 L488.01,314.12 L481.81,310.77 L481.17,310.64 L480.67,310.83 L475.42,314.39 L472.03,318.58 L468.05,321.23 L464.77,320.15 L461.44,311.82 L461.05,311.32 L460.55,311.13 L460.03,311.20 L455.26,313.58Z" fill="#8b1120"/>
<path d="M410.85,268.03 L412.85,286.03 L416.22,290.24 L417.78,294.93 L414.61,299.68 L410.36,303.93 L409.48,310.08 L412.84,316.82 L413.66,323.27 L411.18,329.88 L410.28,336.17 L423.35,340.53 L428.04,338.65 L427.40,333.47 L429.32,328.00 L429.70,327.42 L431.45,328.12 L434.78,322.80 L437.71,319.45 L446.02,313.91 L449.61,310.76 L449.77,310.02 L449.14,307.48 L450.28,302.37 L452.14,298.01 L452.90,294.98 L454.54,295.92 L458.88,296.62 L463.56,294.35 L466.42,288.24 L469.12,283.73 L469.20,283.02 L468.76,282.33 L467.85,282.98 L465.37,280.50 L458.93,272.45 L461.13,268.50 L458.53,267.46 L454.54,265.46 L452.54,261.48 L450.89,256.50 L449.17,252.20 L446.33,249.84 L442.26,251.64 L438.72,253.86 L437.87,258.08 L435.61,260.35 L430.71,260.76 L425.60,262.88 L421.81,265.16 L417.12,258.32 L413.35,263.03 L409.50,268.53Z" fill="#8b1120"/>
<path d="M436.25,273.12 L429.38,280.00 L428.12,283.75 L425.62,287.50 L426.88,291.25 L436.25,293.75 L440.00,292.50 L445.00,285.00 L446.88,281.25 L445.62,277.50 L441.25,276.25Z" fill="#8b1120"/>
<path d="M446.25,285.00 L444.38,290.00 L441.88,300.00 L443.75,303.75 L448.12,301.88 L450.00,297.50 L451.25,292.50 L449.38,287.50Z" fill="#8b1120"/>
<path d="M398.38,497.56 L398.97,502.35 L397.26,506.35 L394.16,510.07 L392.15,514.08 L391.54,518.38 L389.28,521.78 L385.57,524.25 L383.00,527.45 L376.75,533.71 L374.19,536.91 L371.61,540.78 L370.14,544.47 L370.94,542.46 L370.60,540.35 L369.12,544.06 L369.14,544.94 L371.23,548.44 L372.55,551.68 L375.56,554.95 L376.30,554.95 L380.51,553.49 L381.19,552.81 L381.14,551.96 L379.36,548.41 L377.82,545.83 L378.26,543.24 L379.79,540.68 L382.38,538.09 L385.51,537.04 L389.34,536.40 L393.23,535.09 L396.91,533.27 L404.45,531.99 L408.74,529.84 L410.37,527.90 L411.68,528.89 L412.27,529.05 L417.22,528.05 L417.71,527.64 L417.89,527.03 L417.25,523.67 L418.75,521.80 L421.25,520.96 L424.89,522.13 L429.35,521.40 L433.31,519.44 L436.76,518.29 L440.51,517.66 L448.01,515.16 L453.13,514.27 L453.60,513.82 L453.72,513.08 L452.58,510.18 L455.16,508.43 L458.24,505.36 L458.56,504.70 L458.49,504.19 L457.07,501.32 L456.64,502.92 L457.47,504.58 L455.35,500.32 L454.71,495.92 L451.94,491.07 L446.29,488.95 L441.54,490.31 L437.24,492.15 L432.32,492.77 L427.62,493.94 L425.44,492.85 L427.09,491.19 L429.44,485.70 L425.13,483.98 L420.06,484.60 L415.06,483.36 L409.20,484.09 L408.05,488.67 L403.86,487.09 L398.38,487.88Z" fill="#8b1120"/>
<path d="M383.11,557.42 L382.50,557.23 L375.65,557.24 L368.82,558.96 L362.63,561.65 L358.26,566.05 L356.43,571.42 L356.46,572.02 L358.33,577.38 L363.56,580.92 L364.17,581.10 L370.34,581.05 L376.53,577.51 L381.67,573.21 L385.21,567.03 L386.08,560.65 L385.78,560.05Z" fill="#fadade"/>
<path d="M512.20,478.84 L511.39,478.35 L506.81,478.38 L502.21,481.75 L497.80,487.26 L494.59,494.77 L493.10,503.61 L494.61,512.14 L497.83,517.55 L498.39,518.01 L499.12,518.02 L502.35,516.94 L502.82,516.54 L507.05,510.18 L510.23,501.72 L514.47,484.69Z" fill="#f4b7c0"/>
</g>
<polyline fill="none" stroke="#fff" stroke-width="1.8" stroke-linejoin="round" points="173.0,433.0 182.5,426.25 195.0,421.25 207.5,417.5 220.0,420.0 227.5,423.75 226.5,433.0"/>
<g stroke="#b3b8d0" stroke-width="2.6" fill="none" opacity="0.9"><path d="M522.2,482 L522.2,497.5"/><path d="M516.5,521.5 L510,533"/><path d="M495.5,559 L491,571.5"/></g>
<g id="inset"><rect x="569.4" y="429.3" width="95" height="145" fill="#eef2fc" fill-opacity="0.55" stroke="#a9adb8" stroke-width="0.8"/><path d="M569.8,429.7 L601,429.7 L600,434 L596,438 L590,441.5 L581,442.5 L575,441 L569.8,437Z" fill="#f7c9d3" stroke="none"/><path d="M569.8,437 L575,441 L581,442.5 L578,447 L573,447.5 L569.8,445Z" fill="#c9c3d6" stroke="none"/><path d="M601,429.7 L631,429.7 L626,434 L618,438 L606,440 L598,444 L594,448 L590,441.5 L596,438 L600,434Z" fill="#fbf3c4" stroke="none"/><path d="M586,461 L594,458.5 L598,461 L596,466 L590,468.5 L586,466Z" fill="#f8d77a" stroke="none"/><g fill="#e3404f" opacity="0.7"><rect x="577" y="437.5" width="17" height="1.6"/><rect x="608" y="445.5" width="10" height="1.6"/><rect x="621" y="443.5" width="8" height="1.6"/><rect x="643" y="432.5" width="9" height="1.6"/><rect x="589" y="462" width="6" height="1.3"/></g><g fill="#4a4a56" opacity="0.5"><rect x="609" y="438" width="19" height="3.2"/><rect x="606" y="433" width="8" height="2"/><rect x="616" y="433" width="12" height="2"/><rect x="586" y="452.5" width="8" height="2.2"/><rect x="603" y="469.5" width="12" height="2.2"/><rect x="624" y="450.5" width="13" height="1.6" opacity="0.6"/><rect x="598" y="460" width="8" height="1.6" opacity="0.6"/><rect x="622" y="479" width="16" height="2" opacity="0.5"/><rect x="636" y="485" width="9" height="1.6" opacity="0.5"/><rect x="597" y="551" width="10" height="1.6" opacity="0.5"/></g><g stroke="#8a8e9e" stroke-width="2.2" opacity="0.7"><path d="M653.5,458 L651,463.5"/><path d="M590.5,479 L592.5,484"/><path d="M651.5,479 L651.5,484.5"/><path d="M595.5,502 L595.5,507.5"/><path d="M650.5,503.5 L648.5,508.5"/><path d="M582,533 L582,539.5"/><path d="M631,530.5 L635,535"/><path d="M607,553.5 L611.5,557.5"/><path d="M661.5,444 L663.5,447.5" stroke="#d44"/></g><g fill="#6fb6d8" opacity="0.8"><circle cx="612" cy="508" r="1.5"/><circle cx="615" cy="528" r="0.8"/><circle cx="621" cy="522" r="0.7"/><circle cx="628" cy="517" r="0.7"/><circle cx="604" cy="531" r="0.7"/><circle cx="634" cy="512" r="0.7"/><circle cx="610" cy="538" r="0.7"/><circle cx="625" cy="531" r="0.7"/><circle cx="598" cy="527" r="0.6"/><circle cx="640" cy="520" r="0.6"/><circle cx="607" cy="476" r="0.7"/><circle cx="603" cy="473" r="0.6"/><circle cx="628" cy="471" r="0.9"/></g><rect x="637" y="561.3" width="27.4" height="13" fill="#fff" stroke="#555" stroke-width="0.8"/></g>
<g id="pie">
<path d="M980.09,281.83 L980.09,143.33 A138.5,138.5 0 1 1 843.13,302.38Z" fill="#0540f2"/>
<path d="M971.00,274.00 L833.04,294.70 A139.5,139.5 0 0 1 853.70,198.49Z" fill="#f0872e"/>
<path d="M971.00,274.00 L853.31,199.10 A139.5,139.5 0 0 1 885.11,164.08Z" fill="#f3bc0d"/>
<path d="M971.00,274.00 L884.53,164.53 A139.5,139.5 0 0 1 913.78,146.78Z" fill="#70ba3d"/>
<path d="M971.00,274.00 L913.11,147.08 A139.5,139.5 0 0 1 937.95,138.47Z" fill="#12aeea"/>
<path d="M971.00,274.00 L937.24,138.65 A139.5,139.5 0 0 1 955.02,135.42Z" fill="#e1495f"/>
<path d="M971.00,274.00 L954.30,135.50 A139.5,139.5 0 0 1 971.00,134.50Z" fill="#4472c8"/>
<clipPath id="pieclip"><path d="M980.09,281.83 L980.09,143.33 A138.5,138.5 0 1 1 843.13,302.38Z"/><path d="M971.00,274.00 L833.04,294.70 A139.5,139.5 0 0 1 853.70,198.49Z"/><path d="M971.00,274.00 L853.31,199.10 A139.5,139.5 0 0 1 885.11,164.08Z"/><path d="M971.00,274.00 L884.53,164.53 A139.5,139.5 0 0 1 913.78,146.78Z"/><path d="M971.00,274.00 L913.11,147.08 A139.5,139.5 0 0 1 937.95,138.47Z"/><path d="M971.00,274.00 L937.24,138.65 A139.5,139.5 0 0 1 955.02,135.42Z"/><path d="M971.00,274.00 L954.30,135.50 A139.5,139.5 0 0 1 971.00,134.50Z"/></clipPath>
<circle cx="971" cy="274" r="55.5" fill="#fff" fill-opacity="0.38" clip-path="url(#pieclip)"/>
<circle cx="971" cy="274" r="35" fill="#fff"/>
<g transform="translate(971.1,274.3) scale(1.0)" fill="none" stroke="#2459c7" stroke-linejoin="round">
<path d="M0,-26.2 C-5,-26 -10,-25 -13.5,-23.5 C-14.6,-23 -15.6,-22 -16,-20.8 C-17,-17 -19.5,-13.6 -22.8,-11.8 C-23.3,-5 -23,0 -21.9,4.5 C-20.6,9.6 -19,12.6 -16.8,15.4 C-12.5,20.6 -7,24.1 0,27.1 C7,24.1 12.5,20.6 16.8,15.4 C19,12.6 20.6,9.6 21.9,4.5 C23,0 23.3,-5 22.8,-11.8 C19.5,-13.6 17,-17 16,-20.8 C15.6,-22 14.6,-23 13.5,-23.5 C10,-25 5,-26 0,-26.2Z" stroke-width="1.6"/>
<path transform="translate(0,-2.2)" d="M0,-15.4 A15.4,15.4 0 0 0 0,15.4 L0,9.0 A9.0,9.0 0 0 1 0,-9.0Z" fill="#2459c7" stroke="none"/>
<path transform="translate(0,2.2)" d="M0,15.4 A15.4,15.4 0 0 0 0,-15.4 L0,-9.0 A9.0,9.0 0 0 1 0,9.0Z" fill="#2459c7" stroke="none"/>
<circle cx="0" cy="0" r="5.4" fill="#2459c7" stroke="none"/>
</g>
</g>
<g id="leaders" fill="none" stroke="#adb0bb" stroke-width="1">
<polyline points="818,103.8 907,103.8 922,138.5"/>
<polyline points="793,144.3 878.5,144.3 896.5,153.8"/>
<polyline points="755,183.8 840,183.8 857,192.5"/>
<polyline points="1072,97 973.8,97 946.3,135.5"/>
<polyline points="1091,122 991,122 967,134.5"/>
<polyline points="1227.5,239.5 1145,239.5 1122,282.5"/>
<polyline points="727,293 812,293 830,265"/>
</g>
<g id="logo">
<g transform="translate(886.2,37.6) scale(0.93)" fill="none" stroke="#1352e2" stroke-linejoin="round">
<path d="M0,-26.2 C-5,-26 -10,-25 -13.5,-23.5 C-14.6,-23 -15.6,-22 -16,-20.8 C-17,-17 -19.5,-13.6 -22.8,-11.8 C-23.3,-5 -23,0 -21.9,4.5 C-20.6,9.6 -19,12.6 -16.8,15.4 C-12.5,20.6 -7,24.1 0,27.1 C7,24.1 12.5,20.6 16.8,15.4 C19,12.6 20.6,9.6 21.9,4.5 C23,0 23.3,-5 22.8,-11.8 C19.5,-13.6 17,-17 16,-20.8 C15.6,-22 14.6,-23 13.5,-23.5 C10,-25 5,-26 0,-26.2Z" stroke-width="2.7"/>
<path transform="translate(0,-2.0)" d="M0,-15.4 A15.4,15.4 0 0 0 0,15.4 L0,9.0 A9.0,9.0 0 0 1 0,-9.0Z" fill="#1352e2" stroke="none"/>
<path transform="translate(0,2.0)" d="M0,15.4 A15.4,15.4 0 0 0 0,-15.4 L0,-9.0 A9.0,9.0 0 0 1 0,9.0Z" fill="#1352e2" stroke="none"/>
<circle cx="0" cy="0" r="5.4" fill="#1352e2" stroke="none"/>
</g>
<g fill="none" stroke="#1352e2" stroke-width="1.15" stroke-linecap="round">
<path d="M1055.3,23.2 A18.3,18.3 0 1 0 1067.7,23.2"/>
<path d="M1054.4,26.8 A15.2,15.2 0 1 0 1068.6,26.8"/>
<path d="M1053.6,30.6 A12.2,12.2 0 1 0 1069.4,30.6"/>
<rect x="1058.9" y="19.3" width="5.2" height="14.4" rx="2.6" stroke-width="1.3"/>
</g>
<rect x="1159.6" y="27" width="1.6" height="26" fill="#2f5bd0"/>
<g fill="none" stroke="#2b5fd9" stroke-width="0.85">
<circle cx="1222" cy="32.4" r="13.9"/>
<text x="1185.2" y="48.3" font-size="45" font-weight="400" textLength="21.5" lengthAdjust="spacingAndGlyphs" stroke-width="0.9">3</text>
<path d="M1188.8,22.6 A7.4,6.6 0 1 1 1196.6,30.6 M1196.6,33.4 A7.9,7.2 0 1 1 1188.2,41.8" stroke-width="0.8"/>
<circle cx="1222" cy="32.4" r="12.1"/>
<clipPath id="ringclip"><path clip-rule="evenodd" d="M1195,10 H1250 V56 H1195Z M1222,17.6 A14.8,14.8 0 1 0 1222,47.2 A14.8,14.8 0 1 0 1222,17.6Z"/></clipPath>
<text clip-path="url(#ringclip)" x="1204.4" y="48.4" font-size="45" font-weight="400" textLength="35.2" lengthAdjust="spacingAndGlyphs" stroke-width="0.85">0</text>
</g>
</g>
</svg>
<div class="mlab d" style="left:144.3px;top:253.3px;letter-spacing:8.5px;text-indent:8.5px">新疆</div>
<div class="mlab d" style="left:122.5px;top:365px;letter-spacing:9px;text-indent:9px">西藏</div>
<div class="mlab d" style="left:231px;top:338.3px;letter-spacing:9px;text-indent:9px">青海</div>
<div class="mlab d" style="left:263.8px;top:289.2px;">甘</div>
<div class="mlab d" style="left:312.7px;top:335px;">肃</div>
<div class="mlab w" style="left:352px;top:281.8px;letter-spacing:15.5px;text-indent:15.5px;font-size:8.8px">内蒙古</div>
<div class="mlab d" style="left:336.3px;top:318.2px;font-size:7.6px">宁</div>
<div class="mlab d" style="left:336.3px;top:327.4px;font-size:7.6px">夏</div>
<div class="mlab d" style="left:367px;top:333.3px;">陕</div>
<div class="mlab d" style="left:367px;top:356px;">西</div>
<div class="mlab d" style="left:396.3px;top:321px;">山</div>
<div class="mlab d" style="left:396.3px;top:331.7px;">西</div>
<div class="mlab w" style="left:421.7px;top:280.7px;">河</div>
<div class="mlab w" style="left:426px;top:309px;">北</div>
<div class="mlab w" style="left:435.2px;top:284.6px;font-size:5px;letter-spacing:0;line-height:5.6px;width:5.5px;white-space:normal;text-align:center;font-weight:700">北京</div>
<div class="mlab d" style="left:456.7px;top:302.5px;">天津</div>
<div class="mlab d" style="left:533.3px;top:181.7px;font-size:9.3px;letter-spacing:1px;text-indent:1px">黑龙江</div>
<div class="mlab d" style="left:523.3px;top:226.7px;font-size:9px">吉林</div>
<div class="mlab d" style="left:496px;top:260px;font-size:9px">辽宁</div>
<div class="mlab w" style="left:454px;top:335.5px;font-size:9.8px">山东</div>
<div class="mlab w" style="left:409px;top:370.2px;font-size:9.6px">河南</div>
<div class="mlab w" style="left:474px;top:372.7px;font-size:8.6px">江苏</div>
<div class="mlab d" style="left:453.3px;top:390px;">安</div>
<div class="mlab d" style="left:453.3px;top:401px;">徽</div>
<div class="mlab d" style="left:512.3px;top:399.7px;">上海</div>
<div class="mlab d" style="left:403.5px;top:409px;letter-spacing:4.5px;text-indent:4.5px">湖北</div>
<div class="mlab w" style="left:483.3px;top:426.7px;">浙江</div>
<div class="mlab d" style="left:341.7px;top:425.7px;font-size:7.6px">重庆</div>
<div class="mlab d" style="left:297.8px;top:412.3px;letter-spacing:14.5px;text-indent:14.5px">四川</div>
<div class="mlab d" style="left:394px;top:452.3px;letter-spacing:2.5px;text-indent:2.5px">湖南</div>
<div class="mlab d" style="left:437.3px;top:448.7px;letter-spacing:1px;text-indent:1px">江西</div>
<div class="mlab d" style="left:466px;top:468.3px;letter-spacing:1px;text-indent:1px">福建</div>
<div class="mlab d" style="left:339.2px;top:466.5px;letter-spacing:3.2px;text-indent:3.2px">贵州</div>
<div class="mlab d" style="left:278.8px;top:490.4px;letter-spacing:1px;text-indent:1px">云南</div>
<div class="mlab d" style="left:364.2px;top:507.3px;letter-spacing:3.2px;text-indent:3.2px">广西</div>
<div class="mlab w" style="left:422px;top:507.3px;letter-spacing:2.2px;text-indent:2.2px">广东</div>
<div class="mlab d" style="left:502.3px;top:493.3px;">台</div>
<div class="mlab d" style="left:502.3px;top:503.3px;">湾</div>
<div class="mlab d" style="left:369px;top:571px;font-size:7.8px">海南</div>
<div class="mlab d" style="left:446px;top:527.6px;font-size:7.6px">香港</div>
<div class="mlab d" style="left:414.6px;top:541.9px;font-size:7.6px">澳门</div>
<div class="mlab k" style="left:513.4px;top:464.6px;font-size:7.4px">钓鱼岛</div>
<div class="mlab k" style="left:544px;top:458.4px;font-size:7.4px;transform:translate(-50%,-50%) rotate(-9deg)">赤尾屿</div>
<div class="mlab k" style="left:650.7px;top:566.5px;font-size:4.6px;line-height:6px;font-weight:700">南海诸岛</div>
<div class="t title1" style="left:37px;top:16.5px;font-size:31.6px;color:#fff;font-weight:700;line-height:44px;"><span class="dg">01</span> 关于<span class="dg">2024</span>安博会</div>
<div class="t title2" style="left:335.5px;top:17px;font-size:31.6px;color:#f6ba22;font-weight:700;line-height:44px;">专业观众数据</div>
<div class="t lg1" style="left:919.5px;top:18.2px;font-size:23px;color:#1352e2;font-weight:700;line-height:22px;transform:scaleX(0.805);transform-origin:0 0;">SECURITY</div>
<div class="t lg2" style="left:932px;top:36.6px;font-size:23px;color:#1352e2;font-weight:700;line-height:22px;transform:scaleX(0.93);transform-origin:0 0;">CHINA</div>
<div class="t lg3" style="left:1016.8px;top:12.5px;font-size:48.6px;color:#1352e2;font-weight:700;line-height:50px;transform:scaleX(0.88);transform-origin:0 0;">2</div>
<div class="t lg4" style="left:1084px;top:12.5px;font-size:48.6px;color:#1352e2;font-weight:700;line-height:50px;transform:scaleX(0.9);transform-origin:0 0;">24</div>
<div class="t lg5" style="left:1185.6px;top:51.3px;font-size:10.4px;color:#2a58cf;font-weight:700;line-height:11px;">1994-2024</div>
<div class="t lg6" style="left:1236.7px;top:18.6px;font-size:8.5px;color:#2a58cf;font-weight:700;line-height:10px;">th</div>
<div class="t lg7" style="left:1216.3px;top:28.8px;font-size:6.6px;color:#2a58cf;font-weight:700;line-height:8px;letter-spacing:0.5px;">周年</div>
<div class="t pl pl1" style="left:817px;top:81.4px;font-size:16.6px;color:#17aee6;font-weight:400;line-height:22px;">东北 <span class="n">2.92%</span></div>
<div class="t pl pl2" style="left:792.3px;top:122.6px;font-size:16.6px;color:#15aa67;font-weight:400;line-height:22px;">华中 <span class="n">3.83%</span></div>
<div class="t pl pl3" style="left:753px;top:162.2px;font-size:16.6px;color:#b09528;font-weight:400;line-height:22px;">华南 <span class="n">5.34%</span></div>
<div class="t pl pl4" style="left:989px;top:77.2px;font-size:16.6px;color:#cc3857;font-weight:400;line-height:22px;">西南 <span class="n">1.98%</span></div>
<div class="t pl pl5" style="left:1000px;top:99px;font-size:16.6px;color:#5579bf;font-weight:400;line-height:22px;">西北<span class="n">1.91%</span></div>
<div class="t pl pl6" style="left:1144.8px;top:210.2px;font-size:25.4px;color:#1a4fd6;font-weight:400;line-height:30px;"><span class="n">72.63%</span></div>
<div class="t pl pl7" style="left:1179.3px;top:241.6px;font-size:24px;color:#1a4fd6;font-weight:400;line-height:30px;">华北</div>
<div class="t pl pl8" style="left:726.4px;top:270.1px;font-size:20.4px;color:#e6955a;font-weight:400;line-height:24px;"><span class="n">11.39%</span></div>
<div class="t pl pl9" style="left:726.6px;top:295.3px;font-size:19px;color:#e6955a;font-weight:400;line-height:24px;">华东</div>
<div class="abs" style="left:27.8px;top:478px;width:30.2px;height:14.6px;background:#8b1120"></div>
<div class="t leg" style="left:65.8px;top:476.8px;font-size:10.7px;color:#3a3a3a;font-weight:400;line-height:17px;">观众人数<span style="">≥</span><span class="ln">10000</span></div>
<div class="abs" style="left:27.8px;top:496.2px;width:30.2px;height:14.6px;background:#c9172c"></div>
<div class="t leg" style="left:65.8px;top:495.0px;font-size:10.7px;color:#3a3a3a;font-weight:400;line-height:17px;">观众人数<span style="">≥</span><span class="ln">6000</span></div>
<div class="abs" style="left:27.8px;top:514.4px;width:30.2px;height:14.6px;background:#ee909e"></div>
<div class="t leg" style="left:65.8px;top:513.8px;font-size:10.7px;color:#3a3a3a;font-weight:400;line-height:17px;">观众人数<span style="">≥</span><span class="ln">3000</span></div>
<div class="abs" style="left:27.8px;top:533.6px;width:30.2px;height:14.6px;background:#f4b4be"></div>
<div class="t leg" style="left:65.8px;top:532.8px;font-size:10.7px;color:#3a3a3a;font-weight:400;line-height:17px;">观众人数<span style="">≥</span><span class="ln">1000</span></div>
<div class="abs" style="left:27.8px;top:552.8px;width:30.2px;height:14.6px;background:#fad8dd"></div>
<div class="t leg" style="left:65.8px;top:552.5999999999999px;font-size:10.7px;color:#3a3a3a;font-weight:400;line-height:17px;">观众人数<span style="margin-left:2.2px;margin-right:-2px">&lt;</span><span class="ln">1000</span></div>
<div class="t note nl0" style="left:27.8px;top:612.1px;font-size:13.3px;color:#6f6f74;font-weight:300;line-height:16px;">注释:</div>
<div class="t note nl1" style="left:27.8px;top:628.25px;font-size:13.3px;color:#96969b;font-weight:300;line-height:16px;">华北区域：北京、天津、河北、山西、内蒙古</div>
<div class="t note nl2" style="left:27.8px;top:644.4px;font-size:13.3px;color:#96969b;font-weight:300;line-height:16px;">华东区域：上海、江苏、浙江、安徽、福建、江西、山东、台湾</div>
<div class="t note nl3" style="left:27.8px;top:660.5500000000001px;font-size:13.3px;color:#96969b;font-weight:300;line-height:16px;">华南区域：广东、广西壮族自治区、海南、香港特别行政区、澳门特别行政区</div>
<div class="t note nl4" style="left:27.8px;top:676.7px;font-size:13.3px;color:#96969b;font-weight:300;line-height:16px;">华中区域：河南、湖南、湖北</div>
<div class="t note nr0" style="left:521.6px;top:628.25px;font-size:13.3px;color:#8d8d92;font-weight:300;line-height:16px;">东北区域：黑龙江、吉林、辽宁</div>
<div class="t note nr1" style="left:521.6px;top:644.4px;font-size:13.3px;color:#8d8d92;font-weight:300;line-height:16px;">西南区域：西藏、四川、重庆、云南</div>
<div class="t note nr2" style="left:521.6px;top:660.55px;font-size:13.3px;color:#8d8d92;font-weight:300;line-height:16px;">西北区域：新疆、青海、宁夏、陕西、甘肃</div>
<div class="t note nr3" style="left:521.6px;top:676.7px;font-size:13.3px;color:#8d8d92;font-weight:300;line-height:16px;">海外区域：境外国家</div>
<div class="t src" style="left:969.8px;top:634.5px;font-size:13.3px;color:#5f5f63;font-weight:400;line-height:17px;">注：以上数据来自中国安防大数据服务平台</div>
<div class="t foot" style="left:939.6px;top:673.5px;font-size:13.3px;color:#87878c;font-weight:400;line-height:17px;"><span class="f1">数智世界·全域安全</span><span class="f2"> | </span><span class="f3">www.securitychina.com.cn</span></div>
<div class="abs box" style="left:718.3px;top:438.3px;width:513.4px;height:182.7px;border-radius:11px;background:#0741f0;"></div>
<div class="t btitle" style="left:745.4px;top:456px;font-size:32.2px;font-weight:700;color:#fff;line-height:46px;"><span style="color:#f6ba22">国内</span>专业观众</div>
<div class="abs bl bj bl1" style="left:746.4px;top:504.5px;width:452.4px;">参观观众和专业用户<span class="big">80,000+</span>人次。其中国内观众</div>
<div class="abs bl bj bl2" style="left:746.4px;top:541.7px;width:452.8px;">达<span class="y">7.5万</span>人次，与上届观众分布情况相似，观众来源主</div>
<div class="t bl bl3" style="left:746.4px;top:575.4px;">要集中于<span class="y">华北地区</span>，占国内总观众的72.63%。</div>
</body></html>
